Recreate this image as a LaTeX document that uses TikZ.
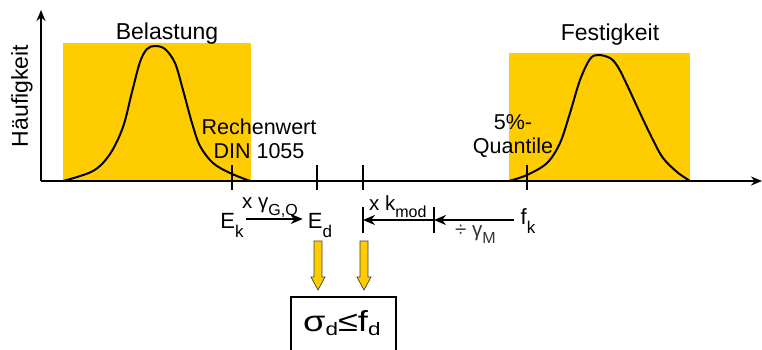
\documentclass[tikz,border=0pt]{standalone}
\usepackage{fontspec}
\usepackage{graphicx}
\setmainfont{Liberation Sans}
\usetikzlibrary{arrows.meta,calc}
\definecolor{gold}{HTML}{FFCC00}
\newcommand{\lo}[1]{\raisebox{-9pt}{\fontsize{17}{17}\selectfont #1}}
\newcommand{\los}[1]{\raisebox{-7pt}{\fontsize{16}{16}\selectfont #1}}
\newcommand{\lob}[1]{\raisebox{-4.5pt}{\fontsize{18}{18}\selectfont #1}}

\begin{document}
\begin{tikzpicture}[x=1pt,y=-1pt, every node/.style={font=\fontsize{23}{23}\selectfont,inner sep=0pt},
  axis/.style={line width=2pt,-{Stealth[length=11pt,width=9pt]}},
  tickmark/.style={line width=2.5pt},
  band/.style={fill=gold},
  curve/.style={line width=2pt},
  arr/.style={line width=2.5pt,-{Stealth[length=12pt,width=10pt]}},
  lbl/.style={font=\fontsize{21.5}{24}\selectfont,align=center},
  val/.style={font=\fontsize{22}{22}\selectfont},
  op/.style={font=\fontsize{20.5}{20}\selectfont},
  yarrow/.style={fill=gold,draw=black!75,line width=0.7pt},
  critbox/.style={draw,line width=2pt,minimum width=105pt,minimum height=66pt}]
\clip (0,0) rectangle (762,349);
% bands and distributions
\fill[band] (63,43) rectangle (251,181);
\fill[band] (509,53) rectangle (690,181);
\draw[curve] plot[smooth,tension=0.55] coordinates {(63,181) (93,171) (110,154) (123,127) (132,92)
  (140,62) (147,49) (155,46) (165,49) (175,63) (183,90) (192,123) (200,146) (213,163) (230,173) (250,181)};
\draw[curve] plot[smooth,tension=0.55] coordinates {(509,181) (527,175) (547,163) (560,143) (570,113)
  (580,80) (590,59) (598,55) (610,58) (618,67) (628,87) (640,113) (653,140) (663,158) (677,172) (690,181)};
% axes
\coordinate (O) at (41,181);
\coordinate (ytop) at (41,10);
\coordinate (xend) at (762,181);
\draw[axis] (O) -- (ytop);
\draw[axis] (O) -- (xend);
\foreach \t in {232,317,363,527} \draw[tickmark] (\t,165) -- (\t,190);
\node[anchor=base] (belast) at (167,39) {Belastung};
\node[anchor=base] (festig) at (610,40) {Festigkeit};
\node[rotate=90] (haeuf) at (22,96) {Häufigkeit};
\node[lbl] (rechen) at (259,139) {Rechenwert\\DIN 1055};
\node[lbl] (quant) at (513,136) {5\%-\\Quantile};
% design values
\node[val,anchor=base] (Ek) at (232,228) {E\lo{k}};
\node[val,anchor=base] (Ed) at (320,228) {E\lo{d}};
\node[val,anchor=base] (fk) at (528,224) {f\lo{k}};
\draw[arr] ($(Ek.base east)+(2,-9)$) -- ($(Ed.base west)+(-5,-9)$);
\node[op,anchor=base west] (gam) at (242,208) {x γ\los{G,Q}};
\coordinate (b1t) at (363,207); \coordinate (b1b) at (363,233);
\coordinate (b2t) at (434,207); \coordinate (b2b) at (434,233);
\draw[tickmark] (b1t) -- (b1b);
\draw[tickmark] (b2t) -- (b2b);
\coordinate (b1m) at (363,220);
\coordinate (b2m) at (434,220);
\draw[arr] (b2m) -- (b1m);
\draw[arr] ($(fk.base west)+(-7,-4)$) -- (b2m);
\node[op,anchor=base west] (kmod) at (369,210) {x k\los{mod}};
\node[op,anchor=base west,text=black!80] (gamM) at (455,236) {÷ γ\los{M}};
% check
\foreach \x in {318,364}
  \draw[yarrow] ({\x-4},241) -- ({\x+4},241) -- ({\x+4},277) -- ({\x+7},277) -- (\x,290) -- ({\x-7},277) -- ({\x-4},277) -- cycle;
\node[critbox] (crit) at (343.5,330) {};
\node[font=\fontsize{29}{29}\selectfont,anchor=base west] (critlbl) at (303,331) {\scalebox{1.25}[1]{σ\lob{d}≤f\lob{d}}};
\end{tikzpicture}
\end{document}
